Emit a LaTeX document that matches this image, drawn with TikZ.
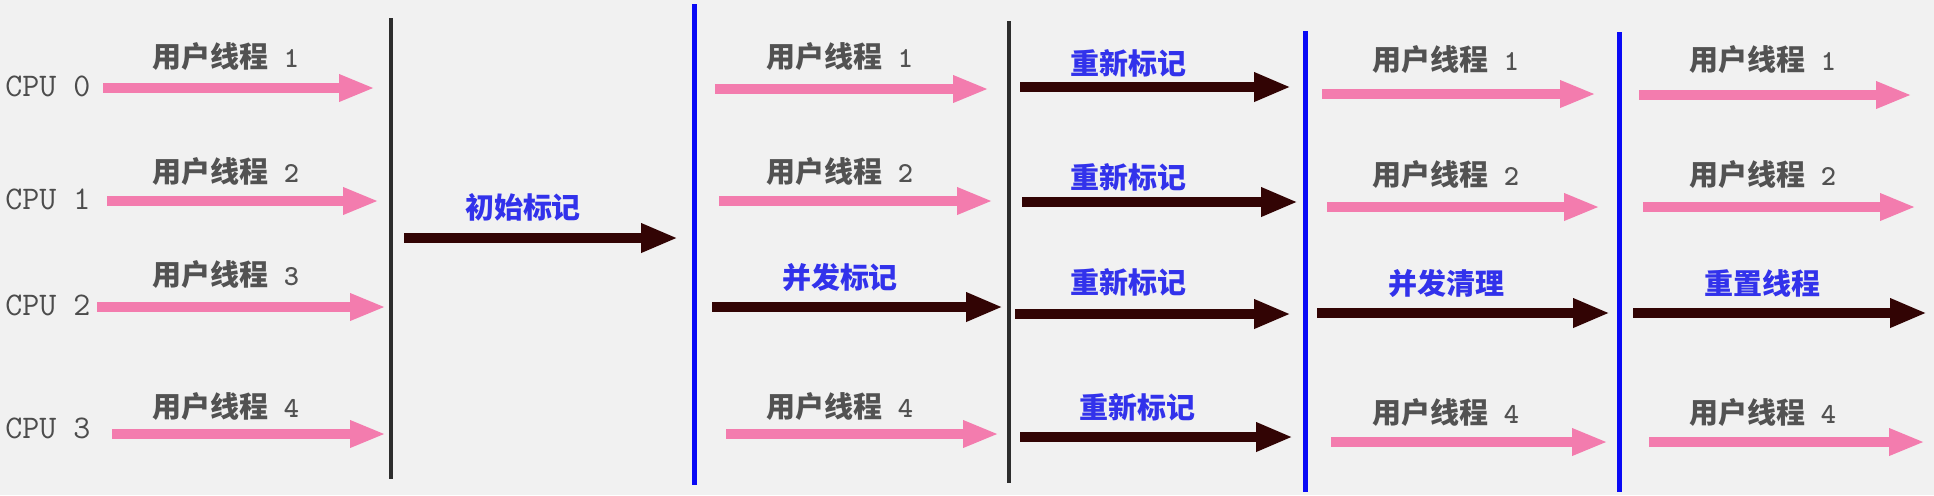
\documentclass[tikz,border=0pt]{standalone}
\usepackage{fontspec}
\setmainfont{Noto Sans CJK SC}
\usepackage{tikz}
\usetikzlibrary{arrows.meta,positioning}
\definecolor{bgcol}{RGB}{241,241,241}
\definecolor{threadpink}{RGB}{243,124,174}
\definecolor{gcdark}{RGB}{50,4,4}
\definecolor{phaseblue}{RGB}{50,50,235}
\definecolor{pausegray}{RGB}{45,45,45}
\definecolor{pauseblue}{RGB}{10,10,245}

\begin{document}
\begin{tikzpicture}[
        x=0.02cm, y=-0.02cm,
        every node/.style={inner sep=0pt, font=\fontsize{16.5}{20}\selectfont},
        cpu/.style={anchor=west, text=black!70, font=\ttfamily\fontsize{18.8}{22}\selectfont},
        thread/.style={text=black!68, font=\bfseries\fontsize{16.5}{20}\selectfont},
        phase/.style={text=phaseblue, font=\bfseries\fontsize{16.5}{20}\selectfont},
        userarrow/.style={draw=threadpink, line width=0.2cm, -{Triangle[length=0.72cm, width=0.5cm]}},
        gcarrow/.style={draw=gcdark, line width=0.2cm, -{Triangle[length=0.74cm, width=0.54cm]}},
        graybar/.style={draw=pausegray, line width=0.09cm},
        bluebar/.style={draw=pauseblue, line width=0.1cm}
    ]
        \fill[bgcol] (0,0) rectangle (1934,495);

        % Phase borders
        \coordinate (p1t) at (391,18);   \coordinate (p1b) at (391,479);
        \coordinate (p2t) at (694,4);    \coordinate (p2b) at (694,485);
        \coordinate (p3t) at (1009,21);  \coordinate (p3b) at (1009,483);
        \coordinate (p4t) at (1305,31);  \coordinate (p4b) at (1305,492);
        \coordinate (p5t) at (1619,32);  \coordinate (p5b) at (1619,492);
        \draw[graybar] (p1t) -- (p1b);
        \draw[bluebar] (p2t) -- (p2b);
        \draw[graybar] (p3t) -- (p3b);
        \draw[bluebar] (p4t) -- (p4b);
        \draw[bluebar] (p5t) -- (p5b);

        % CPUs
        \node[cpu] (cpu0) at (5,86) {CPU 0};
        \node[cpu] (cpu1) at (5,199) {CPU 1};
        \node[cpu] (cpu2) at (5,305) {CPU 2};
        \node[cpu] (cpu3) at (5,428) {CPU 3};

        % Before initial mark
        \coordinate (a0s) at (103,88);  \coordinate (a0e) at (375,88);
        \coordinate (a1s) at (107,201); \coordinate (a1e) at (379,201);
        \coordinate (a2s) at (97,307);  \coordinate (a2e) at (386,307);
        \coordinate (a3s) at (112,434); \coordinate (a3e) at (386,434);
        \node[thread] (a0) at (226,57) {用户线程\texttt{ 1}};
        \node[thread] (a1) at (226,172) {用户线程\texttt{ 2}};
        \node[thread] (a2) at (226,275) {用户线程\texttt{ 3}};
        \node[thread] (a3) at (226,407) {用户线程\texttt{ 4}};
        \draw[userarrow] (a0s) -- (a0e);
        \draw[userarrow] (a1s) -- (a1e);
        \draw[userarrow] (a2s) -- (a2e);
        \draw[userarrow] (a3s) -- (a3e);

        % Initial mark
        \coordinate (ims) at (404,238); \coordinate (ime) at (678,238);
        \node[phase] (im) at (523,207) {初始标记};
        \draw[gcarrow] (ims) -- (ime);

        % Concurrent mark
        \coordinate (b0s) at (715,89);  \coordinate (b0e) at (989,89);
        \coordinate (b1s) at (719,201); \coordinate (b1e) at (993,201);
        \coordinate (b2s) at (712,307); \coordinate (b2e) at (1003,307);
        \coordinate (b3s) at (726,434); \coordinate (b3e) at (999,434);
        \node[thread] (b0) at (840,57) {用户线程\texttt{ 1}};
        \node[thread] (b1) at (840,172) {用户线程\texttt{ 2}};
        \node[phase] (b2) at (840,277) {并发标记};
        \node[thread] (b3) at (840,407) {用户线程\texttt{ 4}};
        \draw[userarrow] (b0s) -- (b0e);
        \draw[userarrow] (b1s) -- (b1e);
        \draw[gcarrow] (b2s) -- (b2e);
        \draw[userarrow] (b3s) -- (b3e);

        % Remark
        \coordinate (c0s) at (1020,87);  \coordinate (c0e) at (1291,87);
        \coordinate (c1s) at (1022,202); \coordinate (c1e) at (1298,202);
        \coordinate (c2s) at (1015,314); \coordinate (c2e) at (1291,314);
        \coordinate (c3s) at (1020,437); \coordinate (c3e) at (1293,437);
        \node[phase] (c0) at (1128,63) {重新标记};
        \node[phase] (c1) at (1128,177) {重新标记};
        \node[phase] (c2) at (1128,282) {重新标记};
        \node[phase] (c3) at (1137,407) {重新标记};
        \draw[gcarrow] (c0s) -- (c0e);
        \draw[gcarrow] (c1s) -- (c1e);
        \draw[gcarrow] (c2s) -- (c2e);
        \draw[gcarrow] (c3s) -- (c3e);

        % Concurrent sweep
        \coordinate (d0s) at (1322,94);  \coordinate (d0e) at (1596,94);
        \coordinate (d1s) at (1327,207); \coordinate (d1e) at (1600,207);
        \coordinate (d2s) at (1317,313); \coordinate (d2e) at (1610,313);
        \coordinate (d3s) at (1331,442); \coordinate (d3e) at (1608,442);
        \node[thread] (d0) at (1446,60) {用户线程\texttt{ 1}};
        \node[thread] (d1) at (1446,175) {用户线程\texttt{ 2}};
        \node[phase] (d2) at (1446,283) {并发清理};
        \node[thread] (d3) at (1446,413) {用户线程\texttt{ 4}};
        \draw[userarrow] (d0s) -- (d0e);
        \draw[userarrow] (d1s) -- (d1e);
        \draw[gcarrow] (d2s) -- (d2e);
        \draw[userarrow] (d3s) -- (d3e);

        % Reset
        \coordinate (e0s) at (1639,95);  \coordinate (e0e) at (1912,95);
        \coordinate (e1s) at (1643,207); \coordinate (e1e) at (1916,207);
        \coordinate (e2s) at (1633,313); \coordinate (e2e) at (1927,313);
        \coordinate (e3s) at (1649,442); \coordinate (e3e) at (1925,442);
        \node[thread] (e0) at (1763,60) {用户线程\texttt{ 1}};
        \node[thread] (e1) at (1763,175) {用户线程\texttt{ 2}};
        \node[phase] (e2) at (1762,283) {重置线程};
        \node[thread] (e3) at (1763,413) {用户线程\texttt{ 4}};
        \draw[userarrow] (e0s) -- (e0e);
        \draw[userarrow] (e1s) -- (e1e);
        \draw[gcarrow] (e2s) -- (e2e);
        \draw[userarrow] (e3s) -- (e3e);
    \end{tikzpicture}
\end{document}
